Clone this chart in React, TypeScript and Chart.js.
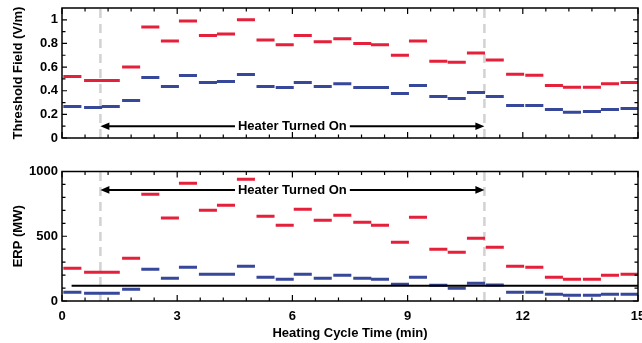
import React, { useEffect, useRef } from "react";
import { Chart, registerables } from "chart.js";

Chart.register(...registerables);

// ---------- data ----------
const segmentCenters = [
  0.27, 0.81, 1.27, 1.8, 2.3, 2.81, 3.28, 3.8, 4.27, 4.79, 5.3, 5.8, 6.27, 6.79, 7.3,
  7.82, 8.28, 8.8, 9.27, 9.8, 10.28, 10.78, 11.27, 11.8, 12.3, 12.81, 13.28, 13.8, 14.27, 14.78,
];
const fieldRed = [
  0.52, 0.487, 0.487, 0.6, 0.94, 0.82, 0.99, 0.867, 0.88, 1.0, 0.83, 0.79, 0.867, 0.815, 0.84,
  0.8, 0.79, 0.7, 0.82, 0.65, 0.64, 0.72, 0.66, 0.54, 0.53, 0.445, 0.43, 0.43, 0.46, 0.47,
];
const fieldBlue = [
  0.267, 0.259, 0.267, 0.318, 0.512, 0.436, 0.529, 0.47, 0.478, 0.537, 0.436, 0.428, 0.47, 0.436, 0.46,
  0.428, 0.428, 0.377, 0.445, 0.352, 0.335, 0.386, 0.352, 0.276, 0.276, 0.242, 0.217, 0.225, 0.242, 0.25,
];
const erpRed = [
  253, 222, 222, 330, 825, 640, 910, 701, 740, 941, 655, 585, 709, 624, 663,
  609, 585, 454, 647, 400, 377, 485, 415, 268, 261, 183, 168, 168, 199, 206,
];
const erpBlue = [
  67, 59, 59, 90, 245, 175, 261, 206, 206, 268, 183, 168, 206, 175, 199,
  175, 168, 129, 183, 121, 98, 137, 123, 67, 67, 52, 44, 44, 52, 52,
];
const erpReferenceLevel = 118;
const erpReferenceRange = [0.25, 15];
const xTicks = [0, 3, 6, 9, 12, 15];
const xMinorStep = 0.6;
const fieldTicks = [0, 0.2, 0.4, 0.6, 0.8, 1];
const fieldTickLabels = ["0", "0.2", "0.4", "0.6", "0.8", "1"];
const fieldMinorStep = 0.1;
const erpTicks = [0, 500, 1000];
const erpTickLabels = ["0", "500", "1000"];
const erpMinorStep = 100;
const xTickLabels = ["0", "3", "6", "9", "12", "15"];
const heaterOnTime = 1;
const heaterOffTime = 11;
const heaterLabel = "Heater Turned On";
const fieldArrowLevel = 0.1;
const erpArrowLevel = 858;
const segHalf = 0.235;

// ---------- styles ----------
const RED = "#e4203a";
const BLUE = "#37479a";
const FONT = '"Liberation Sans", Arial, Helvetica, sans-serif';

function segments(values: number[]) {
  const pts: any[] = [];
  values.forEach((v, i) => {
    const c = segmentCenters[i];
    pts.push({ x: c - segHalf, y: v }, { x: c + segHalf, y: v }, { x: c + segHalf, y: null });
  });
  return pts;
}

function rangeSteps(min: number, max: number, step: number) {
  const out: number[] = [];
  const n = Math.round((max - min) / step);
  for (let i = 0; i <= n; i++) out.push(min + i * step);
  return out;
}

function makeFramePlugin(yMajor: number[], yMinorStep: number, yMax: number, arrowLevel: number) {
  return {
    id: "frame",
    beforeDatasetsDraw(chart: any) {
      const { ctx, chartArea: a, scales } = chart;
      ctx.save();
      ctx.strokeStyle = "#d2d2d2";
      ctx.lineWidth = 2.5;
      ctx.setLineDash([9, 6]);
      [heaterOnTime, heaterOffTime].forEach((t) => {
        const x = scales.x.getPixelForValue(t);
        ctx.beginPath();
        ctx.moveTo(x, a.bottom);
        ctx.lineTo(x, a.top);
        ctx.stroke();
      });
      ctx.restore();
    },
    afterDatasetsDraw(chart: any) {
      const { ctx, chartArea: a, scales } = chart;
      const xs = scales.x;
      const ys = scales.y;
      ctx.save();
      // arrow
      const y = ys.getPixelForValue(arrowLevel);
      const x1 = xs.getPixelForValue(heaterOnTime);
      const x2 = xs.getPixelForValue(heaterOffTime);
      ctx.strokeStyle = "#000";
      ctx.fillStyle = "#000";
      ctx.lineWidth = 2;
      ctx.beginPath();
      ctx.moveTo(x1 + 6, y);
      ctx.lineTo(x2 - 6, y);
      ctx.stroke();
      const head = (xt: number, dir: number) => {
        ctx.beginPath();
        ctx.moveTo(xt, y);
        ctx.lineTo(xt - dir * 9, y - 3.8);
        ctx.lineTo(xt - dir * 9, y + 3.8);
        ctx.closePath();
        ctx.fill();
      };
      head(x1, -1);
      head(x2, 1);
      ctx.font = `bold 13px ${FONT}`;
      const w = ctx.measureText(heaterLabel).width;
      const cx = (x1 + x2) / 2;
      ctx.fillStyle = "#fff";
      ctx.fillRect(cx - w / 2 - 3, y - 8, w + 6, 16);
      ctx.fillStyle = "#000";
      ctx.textAlign = "center";
      ctx.textBaseline = "middle";
      ctx.fillText(heaterLabel, cx, y + 0.5);

      // frame
      ctx.strokeStyle = "#000";
      ctx.lineWidth = 1.5;
      ctx.strokeRect(a.left, a.top, a.right - a.left, a.bottom - a.top);
      ctx.lineWidth = 1.2;
      ctx.beginPath();
      rangeSteps(0, 15, xMinorStep).forEach((v) => {
        const x = xs.getPixelForValue(v);
        const len = 3.5;
        ctx.moveTo(x, a.bottom);
        ctx.lineTo(x, a.bottom - len);
        ctx.moveTo(x, a.top);
        ctx.lineTo(x, a.top + len);
      });
      xTicks.forEach((v) => {
        const x = xs.getPixelForValue(v);
        ctx.moveTo(x, a.bottom);
        ctx.lineTo(x, a.bottom - 6);
        ctx.moveTo(x, a.top);
        ctx.lineTo(x, a.top + 6);
      });
      rangeSteps(0, yMax, yMinorStep).forEach((v) => {
        const yy = ys.getPixelForValue(v);
        if (yy < a.top + 1) return;
        const len = yMajor.some((m) => Math.abs(m - v) < 1e-6) ? 5 : 3.5;
        ctx.moveTo(a.left, yy);
        ctx.lineTo(a.left + len, yy);
        ctx.moveTo(a.right, yy);
        ctx.lineTo(a.right - len, yy);
      });
      ctx.stroke();
      ctx.restore();
    },
  };
}

function lineDs(data: any[], color: string, width = 3) {
  return {
    data,
    borderColor: color,
    backgroundColor: color,
    borderWidth: width,
    pointRadius: 0,
    borderCapStyle: "butt",
    spanGaps: false,
    fill: false,
  };
}

const noPad = (s: any) => {
  s.paddingLeft = 0;
  s.paddingRight = 0;
  s.paddingTop = 0;
  s.paddingBottom = 0;
};

export default function App() {
  const topRef = useRef<HTMLCanvasElement>(null);
  const botRef = useRef<HTMLCanvasElement>(null);

  useEffect(() => {
    const tickFont = { family: FONT, size: 13, weight: "bold" as const };
    const top = new Chart(topRef.current!, {
      type: "line",
      data: {
        datasets: [lineDs(segments(fieldRed), RED), lineDs(segments(fieldBlue), BLUE)] as any,
      },
      options: {
        animation: false,
        responsive: false,
        events: [],
        layout: { padding: { left: 0, right: 4, top: 8, bottom: 14 } },
        plugins: { legend: { display: false }, tooltip: { enabled: false } },
        scales: {
          x: { type: "linear", min: 0, max: 15, display: false },
          y: {
            type: "linear",
            min: 0,
            max: 1.1,
            grid: { display: false, drawTicks: false },
            border: { display: false },
            afterBuildTicks: (s: any) => {
              s.ticks = fieldTicks.map((v) => ({ value: v }));
            },
            afterFit: (s: any) => {
              s.width = 62;
              noPad(s);
            },
            ticks: {
              font: tickFont,
              color: "#000",
              padding: 4,
              callback: (_v: any, i: number) => fieldTickLabels[i],
            },
            title: {
              display: true,
              text: "Threshold Field (V/m)",
              font: tickFont,
              color: "#000",
              padding: { top: 11, bottom: 0 },
            },
          },
        },
      } as any,
      plugins: [makeFramePlugin(fieldTicks, fieldMinorStep, 1.1, fieldArrowLevel)],
    });

    const bot = new Chart(botRef.current!, {
      type: "line",
      data: {
        datasets: [
          lineDs(
            [
              { x: erpReferenceRange[0], y: erpReferenceLevel },
              { x: erpReferenceRange[1], y: erpReferenceLevel },
            ],
            "#000",
            2
          ),
          lineDs(segments(erpRed), RED),
          lineDs(segments(erpBlue), BLUE),
        ] as any,
      },
      options: {
        animation: false,
        responsive: false,
        events: [],
        layout: { padding: { left: 0, right: 4, top: 19.5, bottom: 0 } },
        plugins: { legend: { display: false }, tooltip: { enabled: false } },
        scales: {
          x: {
            type: "linear",
            min: 0,
            max: 15,
            grid: { display: false, drawTicks: false },
            border: { display: false },
            afterBuildTicks: (s: any) => {
              s.ticks = xTicks.map((v) => ({ value: v }));
            },
            afterFit: (s: any) => {
              s.height = 42;
              noPad(s);
            },
            ticks: {
              font: tickFont,
              color: "#000",
              padding: 8,
              maxRotation: 0,
              autoSkip: false,
              callback: (_v: any, i: number) => xTickLabels[i],
            },
            title: {
              display: true,
              text: "Heating Cycle Time (min)",
              font: tickFont,
              color: "#000",
              padding: { top: 0, bottom: 2 },
            },
          },
          y: {
            type: "linear",
            min: 0,
            max: 1000,
            grid: { display: false, drawTicks: false },
            border: { display: false },
            afterBuildTicks: (s: any) => {
              s.ticks = erpTicks.map((v) => ({ value: v }));
            },
            afterFit: (s: any) => {
              s.width = 62;
              noPad(s);
            },
            ticks: {
              font: tickFont,
              color: "#000",
              padding: 4,
              callback: (_v: any, i: number) => erpTickLabels[i],
            },
            title: {
              display: true,
              text: "ERP (MW)",
              font: tickFont,
              color: "#000",
              padding: { top: 11, bottom: 0 },
            },
          },
        },
      } as any,
      plugins: [makeFramePlugin(erpTicks, erpMinorStep, 1000, erpArrowLevel)],
    });

    return () => {
      top.destroy();
      bot.destroy();
    };
  }, []);

  return (
    <div style={{ position: "absolute", left: 0, top: 0, width: 642, height: 343, background: "#fff" }}>
      <canvas ref={topRef} width={642} height={152} style={{ position: "absolute", left: 0, top: 0 }} />
      <canvas ref={botRef} width={642} height={191} style={{ position: "absolute", left: 0, top: 152 }} />
    </div>
  );
}
